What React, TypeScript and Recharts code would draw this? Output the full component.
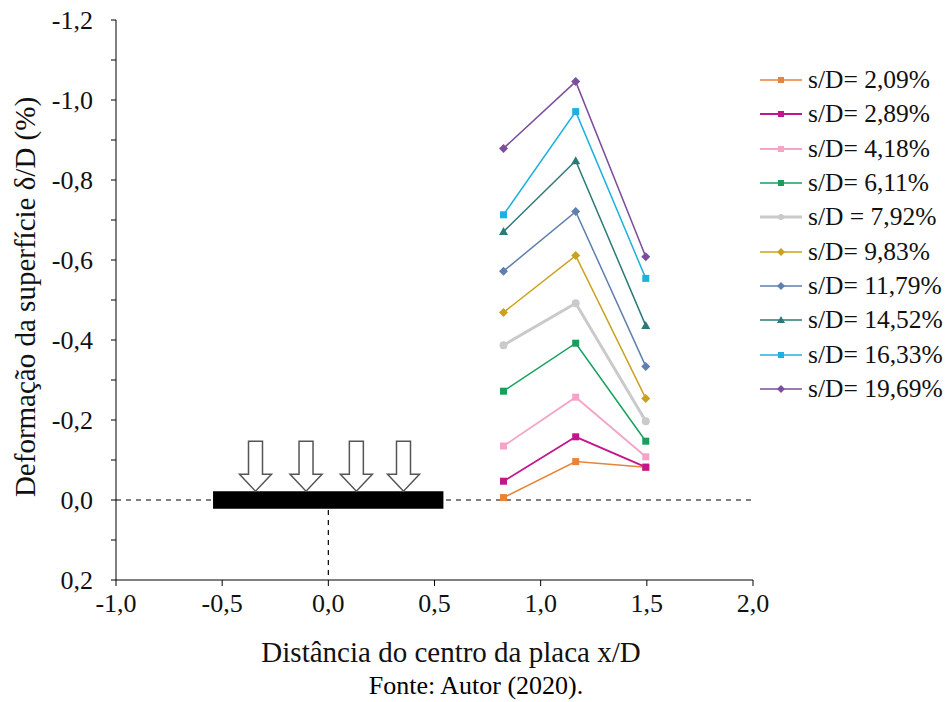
import React from 'react';
import {
    ComposedChart,
    Line,
    Scatter,
    XAxis,
    YAxis,
    ReferenceLine,
    ReferenceArea,
} from 'recharts';

// x/D positions of the three measuring points
const X_POS = [0.825, 1.165, 1.495];

// surface deformation δ/D (%) for each settlement ratio s/D
const SD_2_09 = [-0.006, -0.096, -0.082];
const SD_2_89 = [-0.047, -0.158, -0.082];
const SD_4_18 = [-0.135, -0.257, -0.108];
const SD_6_11 = [-0.272, -0.392, -0.147];
const SD_7_92 = [-0.387, -0.492, -0.197];
const SD_9_83 = [-0.469, -0.611, -0.254];
const SD_11_79 = [-0.572, -0.721, -0.334];
const SD_14_52 = [-0.671, -0.848, -0.436];
const SD_16_33 = [-0.713, -0.971, -0.554];
const SD_19_69 = [-0.879, -1.046, -0.608];

const X_TICKS = [-1, -0.5, 0, 0.5, 1, 1.5, 2];
const Y_TICKS = [-1.2, -1.1, -1.0, -0.9, -0.8, -0.7, -0.6, -0.5, -0.4, -0.3, -0.2, -0.1, 0, 0.1, 0.2];

// loading plate and load arrows
const PLATE_X = [-0.543, 0.542];
const PLATE_Y = [-0.022, 0.022];
const ARROW_X = [-0.343, -0.105, 0.132, 0.354];

type MarkerKind = 'square' | 'circle' | 'diamond' | 'triangle';

interface SeriesDef {
    name: string;
    values: number[];
    color: string;
    marker: MarkerKind;
    width: number;
}

const SERIES: SeriesDef[] = [
    { name: 's/D= 2,09%', values: SD_2_09, color: '#e8833a', marker: 'square', width: 1.5 },
    { name: 's/D= 2,89%', values: SD_2_89, color: '#c4168c', marker: 'square', width: 1.8 },
    { name: 's/D= 4,18%', values: SD_4_18, color: '#f5a3c7', marker: 'square', width: 1.8 },
    { name: 's/D= 6,11%', values: SD_6_11, color: '#16a05c', marker: 'square', width: 1.5 },
    { name: 's/D = 7,92%', values: SD_7_92, color: '#cacaca', marker: 'circle', width: 3 },
    { name: 's/D= 9,83%', values: SD_9_83, color: '#caa21e', marker: 'diamond', width: 1.5 },
    { name: 's/D= 11,79%', values: SD_11_79, color: '#5f7fae', marker: 'diamond', width: 1.5 },
    { name: 's/D= 14,52%', values: SD_14_52, color: '#2a7a77', marker: 'triangle', width: 1.5 },
    { name: 's/D= 16,33%', values: SD_16_33, color: '#1fb0e0', marker: 'square', width: 1.5 },
    { name: 's/D= 19,69%', values: SD_19_69, color: '#7b4f9d', marker: 'diamond', width: 1.5 },
];

const FONT = '"Liberation Serif", "Times New Roman", serif';

const fmt = (v: number) => (Math.round(v * 10) / 10).toFixed(1).replace('.', ',');

const Marker = ({ cx, cy, kind, color, size }: { cx: number; cy: number; kind: MarkerKind; color: string; size: number }) => {
    if (cx == null || cy == null) return null;
    const h = size / 2;
    if (kind === 'square') return <rect x={cx - h} y={cy - h} width={size} height={size} fill={color} />;
    if (kind === 'circle') return <circle cx={cx} cy={cy} r={h} fill={color} />;
    if (kind === 'diamond')
        return <polygon points={`${cx},${cy - h - 1} ${cx + h + 1},${cy} ${cx},${cy + h + 1} ${cx - h - 1},${cy}`} fill={color} />;
    return <polygon points={`${cx},${cy - h - 1} ${cx + h + 1},${cy + h} ${cx - h - 1},${cy + h}`} fill={color} />;
};

// hollow load arrow, tip resting on the plate
const Arrow = (props: any) => {
    const { cx, cy } = props;
    if (cx == null || cy == null) return null;
    const shaft = 7;
    const head = 16;
    const headH = 17;
    const top = cy - 50;
    const pts = [
        [cx - shaft, top],
        [cx + shaft, top],
        [cx + shaft, cy - headH],
        [cx + head, cy - headH],
        [cx, cy],
        [cx - head, cy - headH],
        [cx - shaft, cy - headH],
    ]
        .map((p) => p.join(','))
        .join(' ');
    return <polygon points={pts} fill="#fff" stroke="#555" strokeWidth={1.5} />;
};

const App: React.FC = () => {
    const arrowData = ARROW_X.map((x) => ({ x, y: PLATE_Y[0] }));

    return (
        <div style={{ position: 'absolute', left: 0, top: 0, width: 948, height: 702, background: '#fff', fontFamily: FONT }}>
            <ComposedChart width={948} height={702} margin={{ top: 20, right: 195, bottom: 82, left: 46 }}>
                <XAxis
                    type="number"
                    dataKey="x"
                    domain={[-1, 2]}
                    ticks={X_TICKS}
                    interval={0}
                    tickFormatter={fmt}
                    height={40}
                    tickSize={6}
                    tickMargin={8}
                    axisLine={{ stroke: '#000' }}
                    tickLine={{ stroke: '#000' }}
                    tick={{ fill: '#111', fontSize: 26, fontFamily: FONT }}
                    allowDataOverflow
                />
                <YAxis
                    type="number"
                    dataKey="y"
                    domain={[-1.2, 0.2]}
                    reversed
                    ticks={Y_TICKS}
                    interval={0}
                    tickFormatter={(v: number) => (Math.round(v * 10) % 2 === 0 ? fmt(v) : '')}
                    width={70}
                    tickSize={5}
                    tickMargin={18}
                    axisLine={{ stroke: '#000' }}
                    tickLine={{ stroke: '#000' }}
                    tick={{ fill: '#111', fontSize: 26, fontFamily: FONT }}
                    allowDataOverflow
                />
                <ReferenceLine y={0} stroke="#000" strokeDasharray="5 5" strokeWidth={1.2} />
                <ReferenceLine
                    segment={[{ x: 0, y: 0 }, { x: 0, y: 0.2 }]}
                    stroke="#000"
                    strokeDasharray="5 5"
                    strokeWidth={1.2}
                />
                <ReferenceArea x1={PLATE_X[0]} x2={PLATE_X[1]} y1={PLATE_Y[0]} y2={PLATE_Y[1]} fill="#000" fillOpacity={1} stroke="none" />
                <Scatter data={arrowData} dataKey="y" shape={Arrow} isAnimationActive={false} legendType="none" />
                {SERIES.map((s) => (
                    <Line
                        key={s.name}
                        name={s.name}
                        data={X_POS.map((x, i) => ({ x, y: s.values[i] }))}
                        dataKey="y"
                        stroke={s.color}
                        strokeWidth={s.width}
                        dot={(p: any) => (
                            <Marker key={`${s.name}-${p.index}`} cx={p.cx} cy={p.cy} kind={s.marker} color={s.color} size={s.marker === 'circle' ? 8 : 7} />
                        )}
                        activeDot={false}
                        isAnimationActive={false}
                    />
                ))}
            </ComposedChart>

            {/* legend */}
            <div style={{ position: 'absolute', left: 758, top: 63 }}>
                {SERIES.map((s) => (
                    <div key={s.name} style={{ display: 'flex', alignItems: 'center', height: 34.3 }}>
                        <svg width={46} height={14} style={{ marginRight: 4 }}>
                            <line x1={2} y1={7} x2={44} y2={7} stroke={s.color} strokeWidth={s.width} />
                            <Marker cx={23} cy={7} kind={s.marker} color={s.color} size={6} />
                        </svg>
                        <span style={{ fontSize: 25.5, color: '#111', whiteSpace: 'nowrap', lineHeight: '34px' }}>{s.name}</span>
                    </div>
                ))}
            </div>

            {/* axis titles and source */}
            <div
                style={{
                    position: 'absolute',
                    left: 25,
                    top: 297,
                    transform: 'translate(-50%, -50%) rotate(-90deg)',
                    whiteSpace: 'nowrap',
                    fontSize: 29,
                    color: '#111',
                }}
            >
                Deformação da superfície δ/D (%)
            </div>
            <div style={{ position: 'absolute', left: 451, top: 652, transform: 'translate(-50%, -50%)', whiteSpace: 'nowrap', fontSize: 29, color: '#111' }}>
                Distância do centro da placa x/D
            </div>
            <div style={{ position: 'absolute', left: 476, top: 686, transform: 'translate(-50%, -50%)', whiteSpace: 'nowrap', fontSize: 26, color: '#000' }}>
                Fonte: Autor (2020).
            </div>
        </div>
    );
};

export default App;
